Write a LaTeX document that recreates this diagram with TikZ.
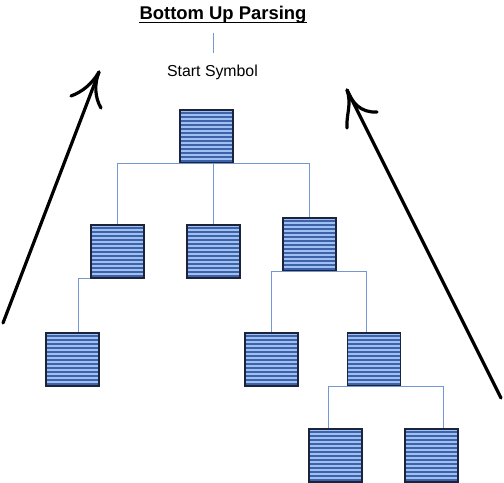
\documentclass[tikz,border=0pt]{standalone}
\usepackage{fontspec}
\setmainfont{Liberation Sans}
\definecolor{boxborder}{RGB}{28,36,60}
\definecolor{stripedark}{RGB}{62,98,168}
\definecolor{stripelight}{RGB}{160,192,242}
\definecolor{connblue}{RGB}{115,150,212}
\tikzset{
  blk/.style={draw=boxborder, line width=1.1bp, minimum width=53bp, minimum height=53bp,
    inner sep=0pt, fill=stripelight,
    path picture={
      \foreach \k in {0,...,13}{
        \fill[stripedark] ([yshift={-(4*\k+2)*1bp}]path picture bounding box.north west)
          rectangle ([yshift={-(4*\k+4)*1bp}]path picture bounding box.north east);
      }
    }},
  conn/.style={draw=connblue, line width=1.4bp},
  bigarrow/.style={draw=black, line width=3.2bp, line cap=round, line join=round},
}
\begin{document}
\begin{tikzpicture}[x=1bp,y=-1bp]
\useasboundingbox (0,0) rectangle (504,483);
% title
\node[anchor=base, font=\fontsize{18.5}{20}\bfseries\selectfont, inner sep=0pt] (title) at (223,20) {Bottom Up Parsing};
\draw[line width=1.4bp] ([yshift=-2.6bp]title.base west) -- ([yshift=-2.6bp]title.base east);
\node[anchor=base, font=\fontsize{15.9}{18}\selectfont, inner sep=0pt] (start) at (212.5,77) {Start Symbol};
\coordinate (v1) at (213.5,33);
\coordinate (v2) at (213.5,53);
\draw[conn] (v1) -- (v2);
% boxes
\node[blk] (root) at (206.5,136.5) {};
\node[blk] (a) at (117.5,251.5) {};
\node[blk] (b) at (213.5,251.5) {};
\node[blk] (c) at (309.5,244.5) {};
\node[blk] (d) at (72.5,359.5) {};
\node[blk] (e) at (271.5,359.5) {};
\node[blk] (f) at (374,359.5) {};
\node[blk] (g) at (335.5,455.5) {};
\node[blk] (h) at (431.5,455.5) {};
% connectors
\draw[conn] (a.north) |- (root.south) -| (c.north);
\draw[conn] (root.south) -| (b.north);
\draw[conn] (a.south west) -| ([xshift=6bp]d.north);
\draw[conn] (e.north) |- (c.south) -| ([xshift=-7.5bp]f.north);
\draw[conn] ([xshift=-7bp]g.north) |- (f.south) -| ([xshift=12bp]h.north);
% big arrows
\coordinate (l0) at (3,323);
\coordinate (l1) at (99,72);
\draw[bigarrow] (l0) -- (l1);
\draw[bigarrow] (71,96) .. controls (82,92) and (92,84) .. (l1) .. controls (94,84) and (95,98) .. (101,108);
\coordinate (r0) at (501,398);
\coordinate (r1) at (347,90);
\draw[bigarrow] (r0) -- (r1);
\draw[bigarrow] (347,128) .. controls (346,115) and (352,104) .. (r1) .. controls (352,102) and (360,113) .. (377,112);
\end{tikzpicture}
\end{document}
